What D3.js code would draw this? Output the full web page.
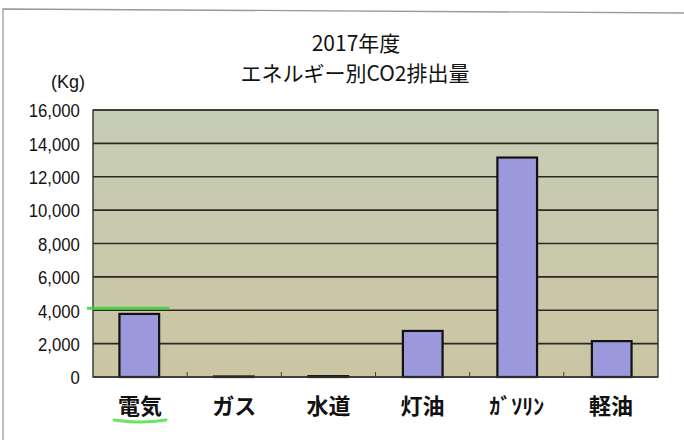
<!DOCTYPE html>
<html><head><meta charset="utf-8">
<script src="https://cdn.jsdelivr.net/npm/d3@7"></script>
<style>body{margin:0;background:#fff}svg{display:block}text{font-family:"Noto Sans CJK JP","Noto Sans",sans-serif}</style>
</head><body><svg id="c" width="684" height="443"></svg>
<script>
const categories = ["電気","ガス","水道","灯油","ｶﾞｿﾘﾝ","軽油"];
const values = [3780, 30, 50, 2760, 13150, 2150];
const yTicks = [0,2000,4000,6000,8000,10000,12000,14000,16000];
const titleLines = ["2017年度","エネルギー別CO2排出量"];
const unitLabel = "(Kg)";
const highlightValue = 4000;

const svg = d3.select("#c");
const m = {l:93, r:658, t:110, b:377};
const latin = "'Liberation Sans',Arial,sans-serif";

// frame (scan page border)
svg.append("path").attr("d","M3,440 L3,9 L684,13").attr("fill","none").attr("stroke","#9a9a9a").attr("stroke-width",1.3);

const defs = svg.append("defs");
const g = defs.append("linearGradient").attr("id","bg").attr("x1",0).attr("y1",0).attr("x2",0).attr("y2",1);
g.append("stop").attr("offset","0%").attr("stop-color","#c6cdb5");
g.append("stop").attr("offset","100%").attr("stop-color","#cbc5a3");

const x = d3.scaleBand().domain(categories).range([m.l,m.r]).paddingInner(0.58).paddingOuter(0.28);
const xb = d3.scaleBand().domain(categories).range([m.l,m.r]);
const y = d3.scaleLinear().domain([0,16000]).range([m.b,m.t]);

svg.append("rect").attr("x",m.l).attr("y",m.t).attr("width",m.r-m.l).attr("height",m.b-m.t).attr("fill","url(#bg)");

// gridlines
svg.append("g").selectAll("line").data(yTicks.filter(d=>d>0)).join("line")
  .attr("x1",m.l).attr("x2",m.r).attr("y1",d=>y(d)).attr("y2",d=>y(d))
  .attr("stroke","#2a2a22").attr("stroke-width",1.7);

// plot border
svg.append("rect").attr("x",m.l).attr("y",m.t).attr("width",m.r-m.l).attr("height",m.b-m.t)
  .attr("fill","none").attr("stroke","#333").attr("stroke-width",1.4);

// category boundary ticks
svg.append("g").selectAll("line").data(categories.slice(1)).join("line")
  .attr("x1",d=>xb(d)).attr("x2",d=>xb(d)).attr("y1",m.b).attr("y2",m.b-5)
  .attr("stroke","#444").attr("stroke-width",1);

// y axis labels (condensed)
const yAxis = d3.axisLeft(y).tickValues(yTicks).tickFormat(d3.format(",")).tickSize(0).tickPadding(15);
const ya = svg.append("g").attr("transform",`translate(${m.l},0) scale(0.88,1)`).call(yAxis);
ya.select(".domain").remove();
ya.selectAll("text").style("font-size","19px").attr("fill","#111")
  .style("font-family",latin).attr("dy","0.36em");

// bars
svg.append("g").selectAll("rect").data(values).join("rect")
  .attr("x",(d,i)=>x(categories[i])).attr("width",x.bandwidth())
  .attr("y",d=>y(d)).attr("height",d=>y(0)-y(d))
  .attr("fill","#9c98dc").attr("stroke","#111").attr("stroke-width",2.2);

// bottom axis line
svg.append("line").attr("x1",m.l).attr("x2",m.r).attr("y1",m.b).attr("y2",m.b).attr("stroke","#333").attr("stroke-width",1.6);

// x labels
const xAxis = d3.axisBottom(xb).tickSize(0).tickPadding(21);
const xa = svg.append("g").attr("transform",`translate(0,${m.b})`).call(xAxis);
xa.select(".domain").remove();
xa.selectAll("text").style("font-size","22px").attr("font-weight","bold").attr("fill","#111");

// green highlights (marker on scan)
svg.append("line").attr("x1",m.l-6).attr("x2",x(categories[0])+x.bandwidth()+10)
  .attr("y1",y(highlightValue)-2).attr("y2",y(highlightValue)-2)
  .attr("stroke","#3fcf3a").attr("stroke-width",3).attr("opacity",0.85);
const cx0 = xb(categories[0])+xb.bandwidth()/2;
svg.append("path").attr("d",`M${cx0-26},${m.b+43} Q${cx0},${m.b+47} ${cx0+26},${m.b+43}`)
  .attr("fill","none").attr("stroke","#4fe04a").attr("stroke-width",3).attr("stroke-linecap","round").attr("opacity",0.85);

// titles
svg.append("text").attr("x",356).attr("y",51).attr("text-anchor","middle").attr("font-size",21).attr("fill","#111").text(titleLines[0]);
svg.append("text").attr("x",355).attr("y",81).attr("text-anchor","middle").attr("font-size",21).attr("fill","#111").text(titleLines[1]);
svg.append("text").attr("x",68).attr("y",88).attr("text-anchor","middle").attr("font-size",18)
  .style("font-family",latin).attr("fill","#111").text(unitLabel);
</script></body></html>
